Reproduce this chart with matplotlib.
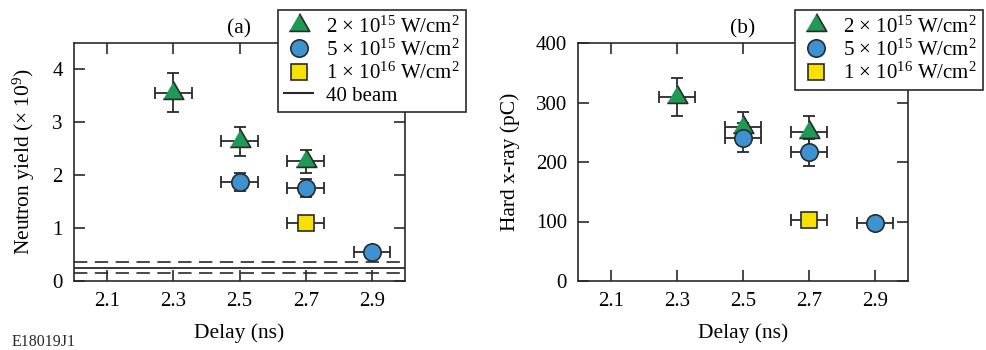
import numpy as np
import matplotlib
matplotlib.use('Agg')
import matplotlib.pyplot as plt
from matplotlib.lines import Line2D

plt.rcParams['font.family'] = ['Liberation Serif', 'DejaVu Serif']
plt.rcParams['mathtext.fontset'] = 'custom'
plt.rcParams['mathtext.rm'] = 'Liberation Serif'
plt.rcParams['mathtext.it'] = 'Liberation Serif:italic'
plt.rcParams['axes.unicode_minus'] = False

# data
delay_2e15 = [2.3, 2.5, 2.7]
delay_5e15 = [2.5, 2.7, 2.9]
delay_1e16 = [2.7]
x_err = 0.055

neutron_2e15 = [3.56, 2.64, 2.26]
neutron_2e15_err = [0.37, 0.27, 0.22]
neutron_5e15 = [1.88, 1.75, 0.54]
neutron_5e15_err = [0.17, 0.17, 0.04]
neutron_1e16 = [1.10]
neutron_1e16_err = [0.04]
beam40 = 0.25
beam40_err = 0.10

xray_2e15 = [310, 259, 251]
xray_2e15_err = [32, 25, 27]
xray_5e15 = [241, 216, 98]
xray_5e15_err = [24, 22, 4]
xray_1e16 = [102]
xray_1e16_err = [4]

labels = [r'2 $\times$ 10$^{15}$ W/cm$^{2}$',
          r'5 $\times$ 10$^{15}$ W/cm$^{2}$',
          r'1 $\times$ 10$^{16}$ W/cm$^{2}$']
xticks = [2.1, 2.3, 2.5, 2.7, 2.9]

green = '#1f9a55'
blue = '#3d93d1'
yellow = '#f8e100'
ink = '#2a2a2a'
tri = [(-1, -0.577), (1, -0.577), (0, 1.155)]

fig = plt.figure(figsize=(9.86, 3.5), dpi=100)
ax1 = fig.add_axes([74/986, 1-281/350, 331/986, 238/350])
ax2 = fig.add_axes([578/986, 1-281/350, 330/986, 238/350])


def draw(ax, ys, errs):
    handles = []
    series = [(delay_2e15, ys[0], errs[0], tri, green, 17),
              (delay_5e15, ys[1], errs[1], 'o', blue, 12.5),
              (delay_1e16, ys[2], errs[2], 's', yellow, 11.5)]
    for (x, y, e, m, c, ms), lab in zip(series, labels):
        ax.errorbar(x, y, yerr=e, xerr=x_err, fmt='none', ecolor=ink,
                    elinewidth=1.3, capsize=4.5, capthick=1.3, zorder=3)
        h, = ax.plot(x, y, linestyle='none', marker=m, ms=ms, mfc=c,
                     mec=ink, mew=1.2, zorder=4, label=lab)
        handles.append(h)
    ax.set_xlim(2.0, 3.0)
    ax.set_xticks(xticks)
    ax.set_xticklabels([str(t) for t in xticks])
    ax.tick_params(direction='in', top=True, right=True, length=8,
                   width=1.2, color=ink, labelsize=15, pad=8)
    for s in ax.spines.values():
        s.set_linewidth(1.2)
        s.set_color(ink)
    ax.set_xlabel('Delay (ns)', fontsize=15.5, labelpad=9)
    return handles


h1 = draw(ax1, [neutron_2e15, neutron_5e15, neutron_1e16],
          [neutron_2e15_err, neutron_5e15_err, neutron_1e16_err])
ax1.axhline(beam40, color=ink, lw=1.3, zorder=2)
ax1.axhline(beam40 + beam40_err, color=ink, lw=1.2, ls=(0, (8, 4.5)), zorder=2)
ax1.axhline(beam40 - beam40_err, color=ink, lw=1.2, ls=(0, (8, 4.5)), zorder=2)
ax1.set_ylim(0, 4.5)
ax1.set_yticks([0, 1, 2, 3, 4])
ax1.set_ylabel(r'Neutron yield ($\times$ 10$^{9}$)', fontsize=15.5, labelpad=11)
ax1.set_title('(a)', fontsize=15.5, pad=7)
beam_handle = Line2D([], [], color=ink, lw=1.5, label='40 beam')
leg1 = fig.legend(handles=h1 + [beam_handle], loc='upper left',
                  bbox_to_anchor=(278/986, 1-10/350), fontsize=15,
                  fancybox=False, edgecolor=ink, framealpha=1,
                  borderaxespad=0, handlelength=1.4, handletextpad=0.6,
                  labelspacing=0.1, borderpad=0.3)
leg1.get_frame().set_linewidth(1.2)
leg1.set_zorder(10)

h2 = draw(ax2, [xray_2e15, xray_5e15, xray_1e16],
          [xray_2e15_err, xray_5e15_err, xray_1e16_err])
ax2.set_ylim(0, 400)
ax2.set_yticks([0, 100, 200, 300, 400])
ax2.set_ylabel('Hard x-ray (pC)', fontsize=15.5, labelpad=11)
ax2.set_title('(b)', fontsize=15.5, pad=7)
leg2 = fig.legend(handles=h2, loc='upper left',
                  bbox_to_anchor=(795/986, 1-10/350), fontsize=15,
                  fancybox=False, edgecolor=ink, framealpha=1,
                  borderaxespad=0, handlelength=1.4, handletextpad=0.6,
                  labelspacing=0.1, borderpad=0.3)
leg2.get_frame().set_linewidth(1.2)
leg2.set_zorder(10)

fig.text(12/986, 4/350, 'E18019J1', fontsize=11.5, color=ink)

fig.savefig('out.png', dpi=100)
